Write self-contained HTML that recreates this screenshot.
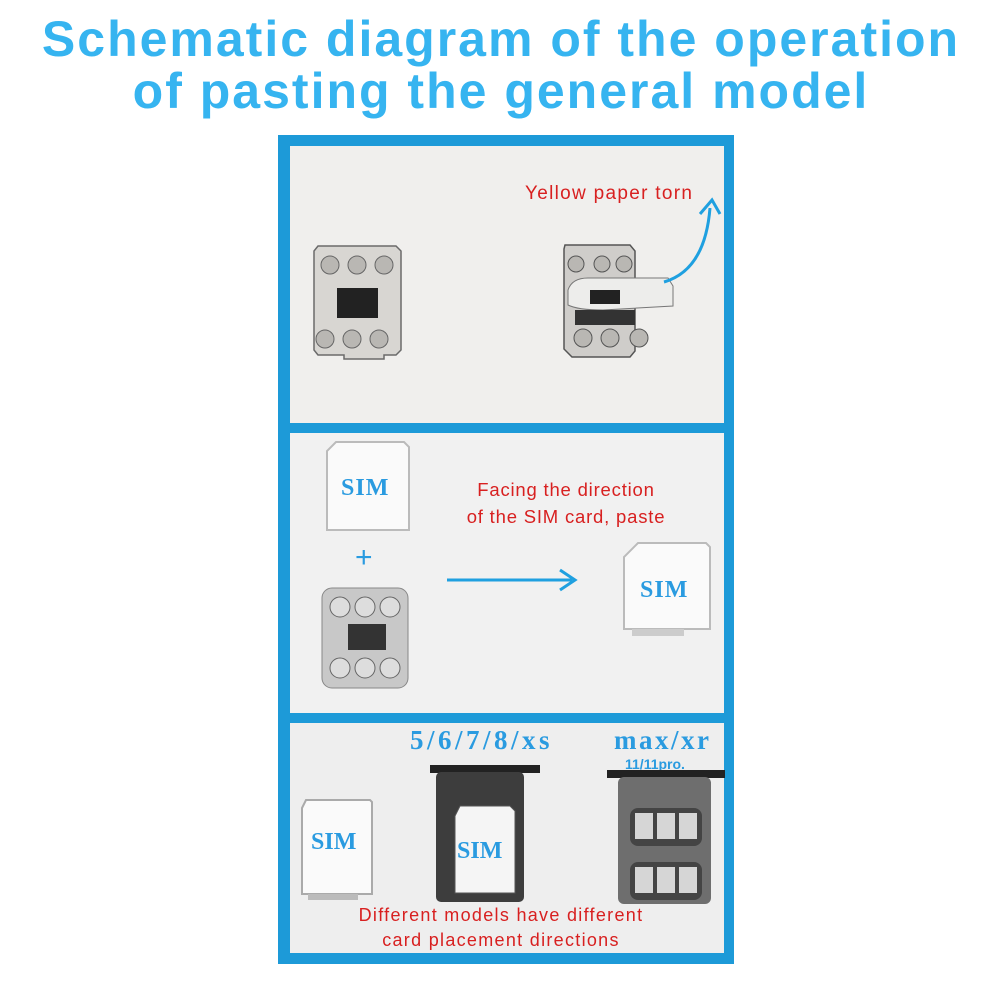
<!DOCTYPE html>
<html><head><meta charset="utf-8"><style>
html,body{margin:0;padding:0;background:#fff;width:1002px;height:1002px;overflow:hidden;position:relative;font-family:"Liberation Sans",sans-serif}
.t{position:absolute;left:0;width:1002px;text-align:center;color:#36b4f0;font-weight:bold;font-size:50px;letter-spacing:2px}
</style></head><body>
<div class="t" style="top:10px">Schematic diagram of the operation</div>
<div class="t" style="top:62px">of pasting the general model</div>
<svg width="1002" height="1002" style="position:absolute;left:0;top:0" font-family="Liberation Sans, sans-serif">
<rect x="278" y="135" width="456" height="829" fill="#1d9ad8"/>
<rect x="290" y="146" width="434" height="277" fill="#f0efed"/>
<rect x="290" y="433" width="434" height="280" fill="#f1f1f1"/>
<rect x="290" y="723" width="434" height="230" fill="#eeeeee"/>
<path d="M318 246 h78 l5 5 v99 l-5 5 h-12 v4 h-40 v-4 h-26 l-4 -5 v-99z" fill="#d8d6d2" stroke="#6a6a6a" stroke-width="1.5"/>
<g fill="#b9b7b3" stroke="#666" stroke-width="1"><circle cx="330" cy="265" r="9"/><circle cx="357" cy="265" r="9"/><circle cx="384" cy="265" r="9"/><circle cx="325" cy="339" r="9"/><circle cx="352" cy="339" r="9"/><circle cx="379" cy="339" r="9"/></g>
<rect x="337" y="288" width="41" height="30" fill="#222"/>
<path d="M565 245 h65 l5 6 v100 l-5 6 h-58 l-8 -8 v-100z" fill="#cfcdca" stroke="#555" stroke-width="1.5"/>
<g fill="#b9b7b3" stroke="#555"><circle cx="576" cy="264" r="8"/><circle cx="602" cy="264" r="8"/><circle cx="624" cy="264" r="8"/><circle cx="583" cy="338" r="9"/><circle cx="610" cy="338" r="9"/><circle cx="639" cy="338" r="9"/></g>
<path d="M568 290 q4 -12 20 -12 h80 l5 8 v20 l-70 4 q-25 0 -35 -5z" fill="#ededeb" stroke="#777"/>
<rect x="590" y="290" width="30" height="14" fill="#222"/>
<rect x="575" y="310" width="60" height="15" fill="#333"/>
<path d="M664 282 Q705 270 710 208" stroke="#1fa0e0" stroke-width="3" fill="none"/>
<path d="M700 214 L712 200 L720 214" stroke="#1fa0e0" stroke-width="3" fill="none"/>
<text x="525" y="199" font-size="19" fill="#d82020" letter-spacing="1.3">Yellow paper torn</text>
<path d="M336 442 h68 l5 5 v83 h-82 v-79z" fill="#fafafa" stroke="#bbb" stroke-width="2"/>
<text x="341" y="495" font-family="Liberation Serif, serif" font-size="24" font-weight="bold" fill="#2a9be0" letter-spacing="1">SIM</text>
<text x="355" y="567" font-size="30" fill="#2a9be0">+</text>
<rect x="322" y="588" width="86" height="100" rx="10" fill="#c8c8c8" stroke="#888"/>
<g fill="#ddd" stroke="#666"><circle cx="340" cy="607" r="10"/><circle cx="365" cy="607" r="10"/><circle cx="390" cy="607" r="10"/><circle cx="340" cy="668" r="10"/><circle cx="365" cy="668" r="10"/><circle cx="390" cy="668" r="10"/></g>
<rect x="348" y="624" width="38" height="26" fill="#333"/>
<text x="566" y="496" font-size="18.5" fill="#d82020" text-anchor="middle" letter-spacing="0.8">Facing the direction</text>
<text x="566" y="523" font-size="18.5" fill="#d82020" text-anchor="middle" letter-spacing="0.8">of the SIM card, paste</text>
<line x1="447" y1="580" x2="572" y2="580" stroke="#1fa0e0" stroke-width="3"/>
<path d="M560 570 L575 580 L560 590" stroke="#1fa0e0" stroke-width="3" fill="none"/>
<path d="M638 543 h68 l4 4 v82 h-86 v-72z" fill="#fafafa" stroke="#bbb" stroke-width="2"/>
<rect x="632" y="629" width="52" height="7" fill="#ccc"/>
<text x="640" y="597" font-family="Liberation Serif, serif" font-size="24" font-weight="bold" fill="#2a9be0" letter-spacing="1">SIM</text>
<text x="410" y="749" font-family="Liberation Serif, serif" font-size="27" font-weight="bold" fill="#2a9be0" letter-spacing="3.5">5/6/7/8/xs</text>
<text x="614" y="749" font-family="Liberation Serif, serif" font-size="27" font-weight="bold" fill="#2a9be0" letter-spacing="2.5">max/xr</text>
<text x="625" y="769" font-size="14" font-weight="bold" fill="#2a9be0">11/11pro.</text>
<path d="M306 800 h64 l2 2 v92 h-70 v-86z" fill="#fafafa" stroke="#aaa" stroke-width="2"/>
<rect x="308" y="894" width="50" height="6" fill="#bbb"/>
<text x="311" y="849" font-family="Liberation Serif, serif" font-size="24" font-weight="bold" fill="#2a9be0">SIM</text>
<rect x="430" y="765" width="110" height="8" fill="#222"/>
<rect x="436" y="772" width="88" height="130" rx="5" fill="#3d3d3d"/>
<path d="M460 806 h50 l5 5 v82 h-60 v-77z" fill="#f5f5f5" stroke="#555"/>
<text x="457" y="858" font-family="Liberation Serif, serif" font-size="24" font-weight="bold" fill="#2a9be0">SIM</text>
<rect x="607" y="770" width="118" height="8" fill="#222"/>
<rect x="618" y="777" width="93" height="127" rx="6" fill="#6e6e6e"/>
<rect x="630" y="808" width="72" height="38" rx="8" fill="#444"/>
<rect x="630" y="862" width="72" height="38" rx="8" fill="#444"/>
<g fill="#d6d6d6"><rect x="635" y="813" width="18" height="26"/><rect x="657" y="813" width="18" height="26"/><rect x="679" y="813" width="18" height="26"/><rect x="635" y="867" width="18" height="26"/><rect x="657" y="867" width="18" height="26"/><rect x="679" y="867" width="18" height="26"/></g>
<text x="501" y="921" font-size="18" fill="#d82020" text-anchor="middle" letter-spacing="1.3">Different models have different</text>
<text x="501" y="946" font-size="18" fill="#d82020" text-anchor="middle" letter-spacing="1.3">card placement directions</text>
</svg>
</body></html>
